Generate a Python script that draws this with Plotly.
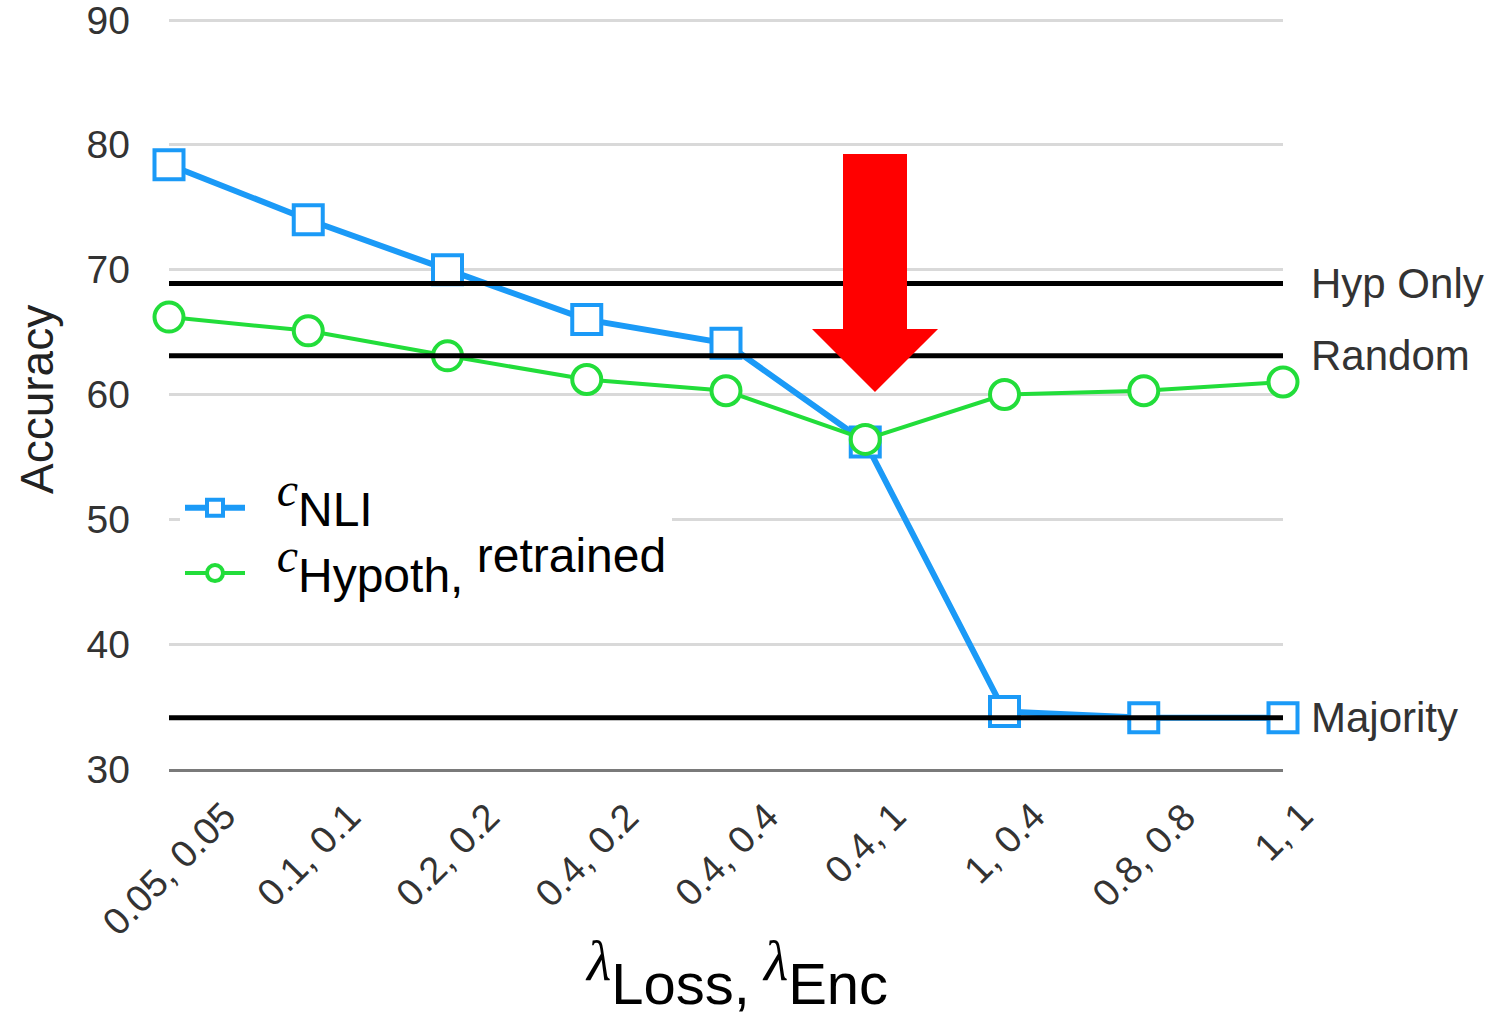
import plotly.graph_objects as go

# ---------------- data ----------------
categories = ["0.05, 0.05", "0.1, 0.1", "0.2, 0.2", "0.4, 0.2", "0.4, 0.4",
              "0.4, 1", "1, 0.4", "0.8, 0.8", "1, 1"]
c_nli = [78.4, 74.0, 70.0, 66.0, 64.1, 56.2, 34.6, 34.1, 34.1]
c_hypoth = [66.2, 65.1, 63.1, 61.2, 60.3, 56.4, 60.0, 60.3, 61.0]
ref_names = ["Hyp Only", "Random", "Majority"]
ref_values = [68.9, 63.1, 34.1]
y_ticks = [30, 40, 50, 60, 70, 80, 90]

# ---------------- figure ----------------
W, H = 1495, 1015
L, R, T, B = 169, 212, 17, 246
PW, PH = W - L - R, H - T - B
Y_TOP = y_ticks[-1] + 3 * (y_ticks[-1] - y_ticks[0]) / (PH - 3)

x_idx = list(range(len(categories)))
FONT = "Liberation Sans, Arial, sans-serif"
BLUE = "#1b9af7"
GREEN = "#22dd3a"
NB = "\u00a0"


def px_x(p):
    return (p - L) / PW


def px_y(p):
    return (H - B - p) / PH


fig = go.Figure()
fig.add_trace(go.Scatter(
    x=x_idx, y=c_nli, mode="lines+markers", cliponaxis=False,
    name=NB * 2 + "<span style='font-family:Liberation Serif'><sup><i><span style='font-size:48px'>c</span></i></sup></span>NLI",
    line=dict(color=BLUE, width=6),
    marker=dict(symbol="square", size=29, color="white",
                line=dict(color=BLUE, width=4)),
))
fig.add_trace(go.Scatter(
    x=x_idx, y=c_hypoth, mode="lines+markers", cliponaxis=False,
    name=NB * 2 + "<span style='font-family:Liberation Serif'><sup><i><span style='font-size:48px'>c</span></i></sup></span>Hypoth,<sup><span style='font-size:48px'> retrained</span></sup>",
    line=dict(color=GREEN, width=4),
    marker=dict(symbol="circle", size=29, color="white",
                line=dict(color=GREEN, width=4)),
))

shapes = []
annotations = []
for name, val in zip(ref_names, ref_values):
    shapes.append(dict(type="line", xref="paper", yref="y", x0=0, x1=1,
                       y0=val, y1=val, line=dict(color="black", width=5),
                       layer="above"))
    annotations.append(dict(xref="paper", yref="y", x=1, y=val, xshift=26,
                            xanchor="left", yanchor="middle", showarrow=False,
                            text=name, font=dict(family=FONT, size=42, color="#333")))

# category tick labels (rotated, centred under each category)
for i, lab in zip(x_idx, categories):
    annotations.append(dict(xref="x", yref="paper", x=i, y=px_y(792),
                            xanchor="center", yanchor="top", showarrow=False,
                            textangle=-45, text=lab,
                            font=dict(family=FONT, size=38, color="#333")))

# red arrow (decoration)
arrow_px = [(843, 154), (907, 154), (907, 329), (938, 329), (875, 392),
            (812, 329), (843, 329)]
path = "M " + " L ".join(f"{px_x(a):.5f},{px_y(b):.5f}" for a, b in arrow_px) + " Z"
shapes.append(dict(type="path", xref="paper", yref="paper", path=path,
                   fillcolor="#ff0000", line=dict(width=0), layer="above"))

# axis titles
annotations.append(dict(
    xref="paper", yref="paper", x=px_x(736), y=px_y(973),
    xanchor="center", yanchor="middle", showarrow=False,
    text="<span style='font-family:Liberation Serif'><sup><i><span style='font-size:56px'>λ</span></i></sup></span>Loss,"
         "<span style='font-family:Liberation Serif'><sup><i><span style='font-size:56px'> λ</span></i></sup></span>Enc",
    font=dict(family=FONT, size=58, color="black")))
annotations.append(dict(
    xref="paper", yref="paper", x=px_x(37), y=px_y(400),
    xanchor="center", yanchor="middle", showarrow=False, textangle=-90,
    text="Accuracy", font=dict(family=FONT, size=46, color="#222")))

fig.update_layout(
    width=W, height=H,
    margin=dict(l=L, r=R, t=T, b=B, autoexpand=False),
    paper_bgcolor="white", plot_bgcolor="white",
    font=dict(family=FONT, color="#333"),
    showlegend=True,
    legend=dict(x=px_x(180), y=px_y(470), xanchor="left", yanchor="top",
                bgcolor="white", borderwidth=0,
                font=dict(family=FONT, size=48, color="black"),
                itemwidth=60, tracegroupgap=0),
    shapes=shapes,
    annotations=annotations,
)
fig.update_xaxes(
    range=[0, len(categories) - 1],
    showticklabels=False, automargin=False,
    showgrid=False, zeroline=False, showline=True, linecolor="#7a7a7a",
    linewidth=3, ticks="",
)
fig.update_yaxes(
    range=[y_ticks[0], Y_TOP], tickmode="array", tickvals=y_ticks,
    tickfont=dict(family=FONT, size=39, color="#333"), automargin=False,
    showgrid=True, gridcolor="#d9d9d9", gridwidth=3, zeroline=False,
    showline=False, ticks="", ticklabelstandoff=38, ticklabeloverflow="allow",
)

fig.write_html("out.html")
